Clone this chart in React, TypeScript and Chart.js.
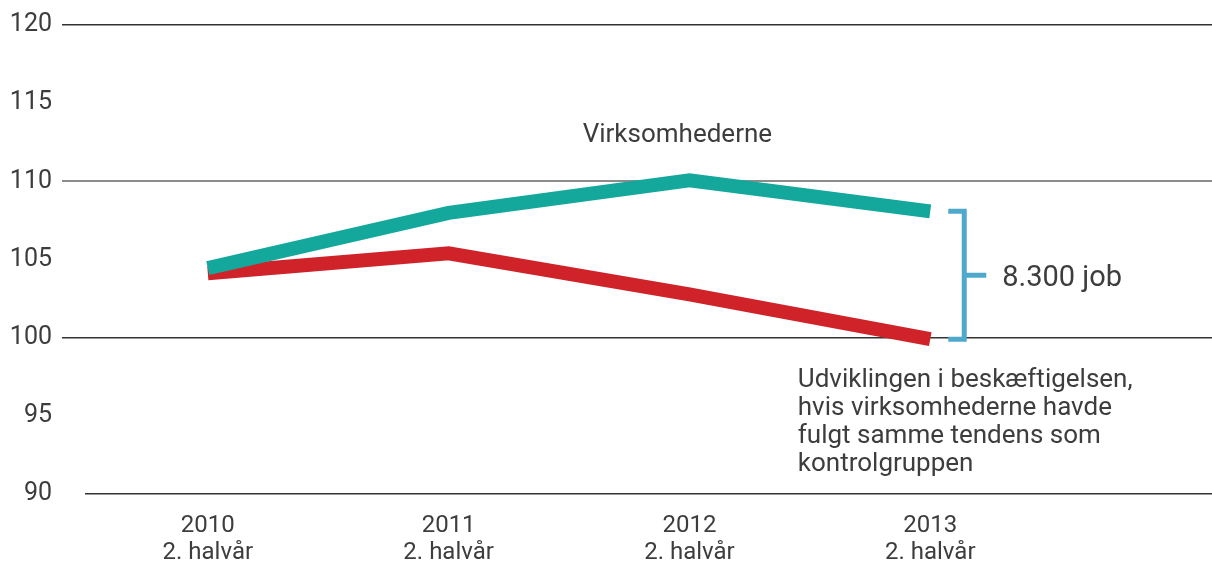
import React, { useEffect, useRef } from "react";
import { Chart, registerables } from "chart.js";

Chart.register(...registerables);

const years = [2010, 2011, 2012, 2013];
const yearLabels = ["2010", "2011", "2012", "2013"];
const halfLabel = "2. halvår";
const virksomhederne = [104.45, 107.98, 110.06, 108.08];
const kontrolgruppe = [104.12, 105.4, 102.77, 99.9];
const yTicks = [90, 95, 100, 105, 110, 115, 120];
const seriesLabel = "Virksomhederne";
const gapLabel = "8.300 job";
const controlLines = [
  "Udviklingen i beskæftigelsen,",
  "hvis virksomhederne havde",
  "fulgt samme tendens som",
  "kontrolgruppen",
];

const FONT = "Roboto, 'Open Sans', sans-serif";
const TEXT = "#3d3d3d";
const GREEN = "#13a89b";
const RED = "#cf2229";
const BLUE = "#4fa9cc";

const annotationPlugin = {
  id: "annot",
  afterDatasetsDraw(chart: any) {
    const { ctx, scales } = chart;
    const x = scales.x;
    const y = scales.y;
    ctx.save();
    ctx.fillStyle = TEXT;
    ctx.textBaseline = "alphabetic";
    ctx.font = `26px ${FONT}`;
    ctx.textAlign = "center";
    ctx.fillText(seriesLabel, x.getPixelForValue(2011.95), y.getPixelForValue(112.5));
    ctx.textAlign = "left";
    const lx = x.getPixelForValue(2012.45);
    const ly = y.getPixelForValue(96.82);
    controlLines.forEach((t, i) => ctx.fillText(t, lx, ly + i * 27.8));
    const bx = x.getPixelForValue(years[3]) + 34;
    const yTop = y.getPixelForValue(virksomhederne[3]);
    const yBot = y.getPixelForValue(kontrolgruppe[3]);
    const yMid = (yTop + yBot) / 2;
    ctx.strokeStyle = BLUE;
    ctx.lineWidth = 5;
    ctx.lineCap = "butt";
    ctx.beginPath();
    ctx.moveTo(bx - 16, yTop);
    ctx.lineTo(bx, yTop);
    ctx.lineTo(bx, yBot);
    ctx.lineTo(bx - 16, yBot);
    ctx.moveTo(bx, yMid);
    ctx.lineTo(bx + 22, yMid);
    ctx.stroke();
    ctx.font = `29px ${FONT}`;
    ctx.fillStyle = TEXT;
    ctx.fillText(gapLabel, bx + 38, yMid + 11);
    ctx.restore();
  },
};

export default function App() {
  const ref = useRef<HTMLCanvasElement>(null);
  useEffect(() => {
    document.body.style.margin = "0";
    const gridColor = (v: number) =>
      v === 110 ? "#8c8c8c" : v % 10 === 0 ? "#333333" : "rgba(0,0,0,0)";
    const chart = new Chart(ref.current!, {
      type: "line",
      data: {
        datasets: [
          {
            label: "Virksomhederne",
            data: years.map((yr, i) => ({ x: yr, y: virksomhederne[i] })),
            borderColor: GREEN,
            borderWidth: 14,
            pointRadius: 0,
            tension: 0,
            borderJoinStyle: "miter",
            borderCapStyle: "butt",
          },
          {
            label: "Kontrolgruppe",
            data: years.map((yr, i) => ({ x: yr, y: kontrolgruppe[i] })),
            borderColor: RED,
            borderWidth: 14,
            pointRadius: 0,
            tension: 0,
            borderJoinStyle: "miter",
            borderCapStyle: "butt",
          },
        ],
      },
      options: {
        responsive: false,
        animation: false,
        layout: { padding: { top: 24, right: 0, left: 0, bottom: 0 } },
        plugins: { legend: { display: false }, tooltip: { enabled: false } },
        scales: {
          x: {
            type: "linear",
            min: 2009.49,
            max: 2014.17,
            afterBuildTicks: (axis: any) => {
              axis.ticks = years.map((v) => ({ value: v }));
            },
            afterFit: (axis: any) => {
              axis.height = 68;
            },
            grid: { display: false },
            border: { display: false },
            ticks: {
              color: TEXT,
              font: { family: FONT, size: 24, lineHeight: 1.15 },
              padding: 10,
              maxRotation: 0,
              callback: (v: any) => {
                const i = years.indexOf(Number(v));
                return i >= 0 ? [yearLabels[i], halfLabel] : "";
              },
            },
          },
          y: {
            min: 90,
            max: 120,
            afterBuildTicks: (axis: any) => {
              axis.ticks = yTicks.map((v) => ({ value: v }));
            },
            afterFit: (axis: any) => {
              axis.width = 85;
            },
            border: { display: false },
            grid: {
              color: (c: any) => gridColor(c.tick.value),
              tickColor: (c: any) =>
                c.tick.value === 90 ? "rgba(0,0,0,0)" : gridColor(c.tick.value),
              lineWidth: (c: any) => (c.tick.value === 110 ? 2 : 1.5),
              drawTicks: true,
              tickLength: 23,
            },
            ticks: {
              color: TEXT,
              font: { family: FONT, size: 25 },
              padding: 10,
              callback: (v: any) => String(v),
            },
          },
        },
      },
      plugins: [annotationPlugin],
    } as any);
    return () => chart.destroy();
  }, []);
  return (
    <div style={{ width: 1212, height: 562 }}>
      <canvas ref={ref} width={1212} height={562} />
    </div>
  );
}
